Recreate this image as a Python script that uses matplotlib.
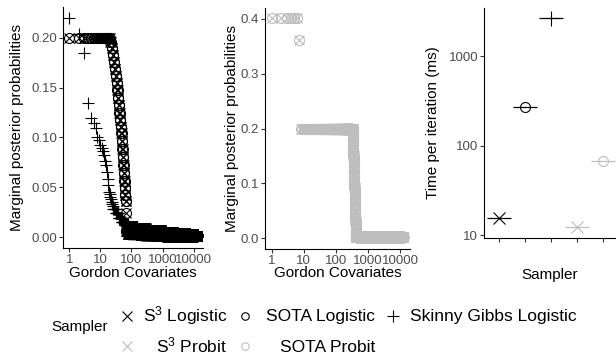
import numpy as np
import matplotlib
matplotlib.use('Agg')
import matplotlib.pyplot as plt
from matplotlib.ticker import FixedLocator, FixedFormatter, NullLocator

plt.rcParams['font.family'] = ['Liberation Sans', 'DejaVu Sans']
plt.rcParams['mathtext.fontset'] = 'custom'
plt.rcParams['mathtext.rm'] = 'Liberation Sans'
plt.rcParams['mathtext.it'] = 'Liberation Sans:italic'
plt.rcParams['mathtext.bf'] = 'Liberation Sans:bold'

# ---------------- data ----------------
n_covariates = 12533

# S3 / SOTA logistic marginal posterior probabilities, sorted (value, run length)
logit_values = [0.200, 0.196, 0.190, 0.183, 0.176, 0.169, 0.162, 0.155, 0.148,
                0.140, 0.133, 0.125, 0.118, 0.111, 0.104, 0.096, 0.088, 0.080,
                0.072, 0.064, 0.056, 0.049, 0.042, 0.036, 0.024, 0.006, 0.003,
                0.002, 0.001]
logit_counts = [20, 2, 2, 2, 2, 2, 2, 2, 2, 2, 2, 2, 2, 2, 2, 2, 2, 2, 2, 2, 2,
                2, 2, 2, 1, 10, 120, 800, 11536]

# Skinny Gibbs logistic
skinny_values = [0.220, 0.204, 0.185, 0.135, 0.120, 0.115, 0.110, 0.100, 0.097,
                 0.092, 0.089, 0.086, 0.082, 0.076, 0.072, 0.065, 0.058, 0.052,
                 0.045, 0.043, 0.040, 0.038, 0.035, 0.033, 0.031, 0.028, 0.024,
                 0.019, 0.015, 0.012, 0.010, 0.008, 0.006, 0.0045, 0.0035, 0.0025]
skinny_counts = [1] * 25 + [5, 8, 10, 12, 20, 70, 250, 800, 1800, 4000, 5533]

# S3 / SOTA probit
probit_values = [0.401, 0.362, 0.200,
                 0.195, 0.189, 0.182, 0.176, 0.169, 0.163, 0.156, 0.150, 0.143,
                 0.137, 0.130, 0.124, 0.117, 0.111, 0.104, 0.098, 0.091, 0.085,
                 0.078, 0.072, 0.065, 0.059, 0.052, 0.046, 0.039, 0.033, 0.026,
                 0.020, 0.013, 0.007, 0.002]
probit_counts = [6, 1, 322] + [3] * 30 + [12114]

samplers = ['S3 Logistic', 'SOTA Logistic', 'Skinny Gibbs Logistic',
            'S3 Probit', 'SOTA Probit']
time_ms = [15.5, 270, 2650, 12.3, 67]

x_ticks = [1, 10, 100, 1000, 10000]
x_tick_labels = ['1', '10', '100', '1000', '10000']
p1_yticks = [0.00, 0.05, 0.10, 0.15, 0.20]
p1_ylabels = ['0.00', '0.05', '0.10', '0.15', '0.20']
p2_yticks = [0.0, 0.1, 0.2, 0.3, 0.4]
p2_ylabels = ['0.0', '0.1', '0.2', '0.3', '0.4']
p3_yticks = [10, 100, 1000]
p3_ylabels = ['10', '100', '1000']

# ---------------- styles ----------------
BLACK = '#000000'
GREY = '#BEBEBE'
TICK_COL = '#4D4D4D'
W, H = 616, 356

sampler_style = {
    'S3 Logistic': dict(marker='x', color=BLACK),
    'SOTA Logistic': dict(marker='o', color=BLACK),
    'Skinny Gibbs Logistic': dict(marker='+', color=BLACK),
    'S3 Probit': dict(marker='x', color=GREY),
    'SOTA Probit': dict(marker='o', color=GREY),
}
msize_panel = {'x': 7.2, 'o': 7.2, '+': 8.6}
msize_time = {'x': 8.6, 'o': 7.2, '+': 10.8}
msize_leg = {'x': 6.5, 'o': 5.4, '+': 8.6}
MEW = 0.8

fig = plt.figure(figsize=(W / 100, H / 100), dpi=100)


def px_axes(left, top, right, bottom):
    return fig.add_axes([left / W, 1 - bottom / H, (right - left) / W, (bottom - top) / H])


def style_axes(ax):
    for s in ['top', 'right']:
        ax.spines[s].set_visible(False)
    for s in ['left', 'bottom']:
        ax.spines[s].set_linewidth(0.8)
        ax.spines[s].set_color('black')
    ax.tick_params(axis='both', which='major', length=2.6, width=0.8,
                   color='#333333', labelcolor=TICK_COL, labelsize=9.5, pad=1.5)
    ax.tick_params(axis='both', which='minor', length=0)


def scatter_series(ax, values, counts, name):
    vals = np.repeat(values, counts)
    ranks = np.arange(1, len(vals) + 1)
    st = sampler_style[name]
    m = st['marker']
    kw = dict(linestyle='none', marker=m, markersize=msize_panel[m],
              markeredgewidth=MEW, color=st['color'])
    if m == 'o':
        kw['markerfacecolor'] = 'none'
    ax.plot(ranks, vals, **kw)


xlim_log = (10 ** -0.205, 10 ** 4.303)

# ---------------- panel 1 ----------------
ax1 = px_axes(63, 7, 203, 248)
scatter_series(ax1, logit_values, logit_counts, 'S3 Logistic')
scatter_series(ax1, logit_values, logit_counts, 'SOTA Logistic')
scatter_series(ax1, skinny_values, skinny_counts, 'Skinny Gibbs Logistic')
ax1.set_xscale('log')
ax1.set_xlim(*xlim_log)
ax1.set_ylim(-0.011, 0.231)
ax1.xaxis.set_major_locator(FixedLocator(x_ticks))
ax1.xaxis.set_major_formatter(FixedFormatter(x_tick_labels))
ax1.xaxis.set_minor_locator(NullLocator())
ax1.yaxis.set_major_locator(FixedLocator(p1_yticks))
ax1.yaxis.set_major_formatter(FixedFormatter(p1_ylabels))
style_axes(ax1)
ax1.set_xlabel('Gordon Covariates', fontsize=11, va='center')
ax1.set_ylabel('Marginal posterior probabilities', fontsize=11, va='center')
ax1.xaxis.set_label_coords(0.5, (248 - 273) / 241)
ax1.yaxis.set_label_coords((17 - 63) / 140, 0.5)

# ---------------- panel 2 ----------------
ax2 = px_axes(265, 8, 410, 249)
scatter_series(ax2, probit_values, probit_counts, 'S3 Probit')
scatter_series(ax2, probit_values, probit_counts, 'SOTA Probit')
ax2.set_xscale('log')
ax2.set_xlim(*xlim_log)
ax2.set_ylim(-0.02, 0.42)
ax2.xaxis.set_major_locator(FixedLocator(x_ticks))
ax2.xaxis.set_major_formatter(FixedFormatter(x_tick_labels))
ax2.xaxis.set_minor_locator(NullLocator())
ax2.yaxis.set_major_locator(FixedLocator(p2_yticks))
ax2.yaxis.set_major_formatter(FixedFormatter(p2_ylabels))
style_axes(ax2)
ax2.set_xlabel('Gordon Covariates', fontsize=11, va='center')
ax2.set_ylabel('Marginal posterior probabilities', fontsize=11, va='center')
ax2.xaxis.set_label_coords(0.5, (249 - 273) / 241)
ax2.yaxis.set_label_coords((232 - 265) / 145, 0.5)

# ---------------- panel 3 ----------------
ax3 = px_axes(484, 8, 616, 238)
pos = np.arange(1, len(samplers) + 1)
for p, name, t in zip(pos, samplers, time_ms):
    st = sampler_style[name]
    m = st['marker']
    ax3.hlines(t, p - 0.47, p + 0.47, color=st['color'], linewidth=0.9)
    kw = dict(linestyle='none', marker=m, markersize=msize_time[m],
              markeredgewidth=MEW, color=st['color'])
    if m == 'o':
        kw['markerfacecolor'] = 'none'
    ax3.plot([p], [t], **kw)
ax3.set_yscale('log')
ax3.set_xlim(0.42, 5.5)
ax3.set_ylim(10 ** 0.97, 10 ** 3.54)
ax3.xaxis.set_major_locator(FixedLocator(pos))
ax3.xaxis.set_major_formatter(FixedFormatter([''] * len(pos)))
ax3.yaxis.set_major_locator(FixedLocator(p3_yticks))
ax3.yaxis.set_major_formatter(FixedFormatter(p3_ylabels))
ax3.yaxis.set_minor_locator(NullLocator())
style_axes(ax3)
ax3.set_xlabel('Sampler', fontsize=11, va='center')
ax3.set_ylabel('Time per iteration (ms)', fontsize=11, va='center')
ax3.xaxis.set_label_coords(0.5, (238 - 275) / 230)
ax3.yaxis.set_label_coords((433 - 484) / 132, 0.5)

# ---------------- legend ----------------
axl = fig.add_axes([0, 0, 1, 1])
axl.set_xlim(0, W)
axl.set_ylim(H, 0)
axl.axis('off')
axl.text(51, 331.5, 'Sampler', fontsize=11, ha='left', va='baseline')

legend_labels = {
    'S3 Logistic': r'$\mathrm{S}^{3}$ Logistic',
    'SOTA Logistic': 'SOTA Logistic',
    'Skinny Gibbs Logistic': 'Skinny Gibbs Logistic',
    'S3 Probit': r'$\mathrm{S}^{3}$ Probit',
    'SOTA Probit': 'SOTA Probit',
}
legend_layout = {  # marker x, marker y, text right x, baseline y
    'S3 Logistic': (127, 316, 227, 321.5),
    'SOTA Logistic': (245, 316, 375, 321.5),
    'Skinny Gibbs Logistic': (393, 316, 577, 321.5),
    'S3 Probit': (127, 346, 227, 352),
    'SOTA Probit': (245, 346, 375, 352),
}
for name in samplers:
    mx, my, tx, ty = legend_layout[name]
    st = sampler_style[name]
    m = st['marker']
    kw = dict(linestyle='none', marker=m, markersize=msize_leg[m],
              markeredgewidth=MEW, color=st['color'])
    if m == 'o':
        kw['markerfacecolor'] = 'none'
    axl.plot([mx], [my], **kw)
    axl.text(tx, ty, legend_labels[name], fontsize=12.5, ha='right', va='baseline')

fig.savefig('out.png', dpi=100)
